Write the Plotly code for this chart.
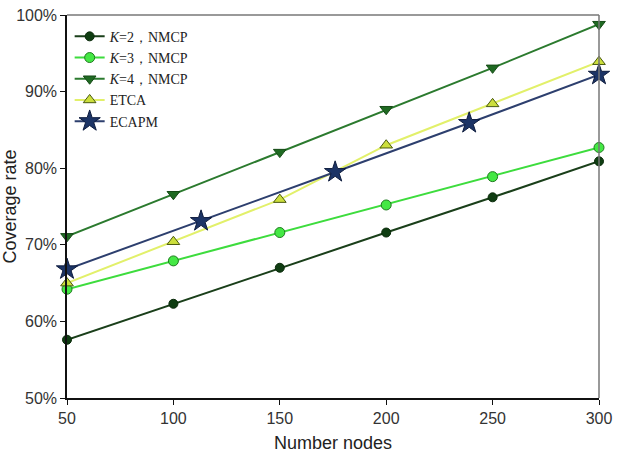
import plotly.graph_objects as go

nodes = [50, 100, 150, 200, 250, 300]
k2 = [57.6, 62.3, 67.0, 71.6, 76.2, 80.9]
k3 = [64.2, 67.9, 71.6, 75.2, 78.9, 82.7]
k4 = [71.1, 76.6, 82.1, 87.7, 93.1, 98.8]
etca = [65.0, 70.4, 75.9, 83.0, 88.4, 93.9]
ecapm_x = [50, 113, 176, 239, 300]
ecapm = [66.8, 73.1, 79.5, 85.9, 92.2]
y_ticks = [50, 60, 70, 80, 90, 100]
y_labels = ["50%", "60%", "70%", "80%", "90%", "100%"]
x_ticks = [50, 100, 150, 200, 250, 300]

fig = go.Figure()

def add(x, y, name, lc, mc, sym, size, olc):
    fig.add_trace(go.Scatter(
        x=x, y=y, name=name, mode="lines+markers",
        line=dict(color=lc, width=2),
        marker=dict(symbol=sym, size=size, color=mc, line=dict(color=olc, width=1)),
        cliponaxis=False,
    ))

add(nodes, k2, "<i>K</i>=2，NMCP", "#1a3f1a", "#0f3d12", "circle", 9, "#0a2a0a")
add(nodes, k3, "<i>K</i>=3，NMCP", "#3ddc3d", "#44e844", "circle", 10, "#1f7a1f")
add(nodes, k4, "<i>K</i>=4，NMCP", "#2b7a2e", "#1f6a22", "triangle-down", 11, "#154a16")
add(nodes, etca, "ETCA", "#e2f06a", "#ccdf3c", "triangle-up", 11, "#4a5a10")
add(ecapm_x, ecapm, "ECAPM", "#2d3f6e", "#1c3466", "star", 16, "#0e1c3e")

fig.update_layout(
    width=619, height=456,
    margin=dict(l=67, r=20, t=15, b=58),
    paper_bgcolor="white", plot_bgcolor="white",
    font=dict(family="Liberation Sans, Arial", color="#333333", size=16),
    legend=dict(
        x=0.005, y=0.985, xanchor="left", yanchor="top",
        font=dict(family="Liberation Serif, Times New Roman", size=14, color="#222"),
        bgcolor="rgba(0,0,0,0)", tracegroupgap=0, itemwidth=30,
    ),
    showlegend=True,
)
fig.update_xaxes(
    range=[50, 300], tickvals=x_ticks, showgrid=False, zeroline=False,
    showline=True, linecolor="#111", linewidth=1.5, automargin=False,
    ticks="outside", ticklen=5, tickcolor="#111", tickfont=dict(size=16),
    title=dict(text="Number nodes", font=dict(size=18, color="#222"), standoff=10),
)
fig.update_yaxes(
    range=[50, 100], tickvals=y_ticks, ticktext=y_labels, showgrid=False, zeroline=False,
    showline=True, linecolor="#111", linewidth=1.5, automargin=False,
    ticks="outside", ticklen=5, tickcolor="#111", tickfont=dict(size=16),
    title=dict(text="Coverage rate", font=dict(size=18, color="#222"), standoff=0),
)
fig.add_shape(type="line", xref="paper", yref="paper", x0=0, x1=1, y0=1, y1=1,
              line=dict(color="#777", width=1.5))
fig.add_shape(type="line", xref="paper", yref="paper", x0=1, x1=1, y0=0, y1=1,
              line=dict(color="#777", width=1.5))

fig.write_html("out.html")
